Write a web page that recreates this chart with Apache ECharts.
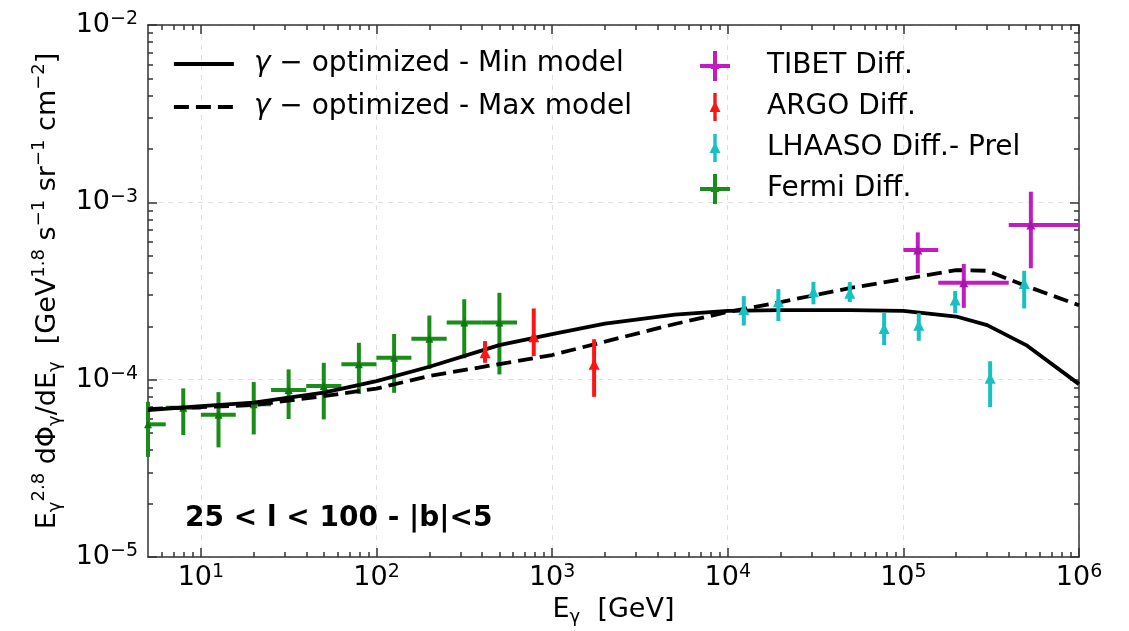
<!DOCTYPE html>
<html>
<head>
    <meta charset="utf-8" />
    <title>Diffuse gamma-ray spectrum 25 &lt; l &lt; 100</title>
    <script src="https://cdn.jsdelivr.net/npm/echarts@6.0.0/dist/echarts.min.js"></script>
    <style>
        body { margin: 0; background: #fff; }
        #main { width: 1129px; height: 631px; }
    </style>
</head>
<body>
<div id="main"></div>
<script>
    // model curves (GeV, E^2.8 dPhi/dE)
    let modelE   = [5, 10, 20, 50, 100, 200, 500, 1e3, 2e3, 5e3, 1e4, 2e4, 5e4, 1e5, 2e5, 3e5, 5e5, 1e6]
    let minModel = [6.74e-5, 7.1e-5, 7.43e-5, 8.46e-5, 9.82e-5, 1.183e-4, 1.567e-4, 1.807e-4, 2.07e-4, 2.33e-4, 2.44e-4, 2.47e-4, 2.47e-4, 2.44e-4, 2.27e-4, 2.03e-4, 1.567e-4, 9.44e-5]
    let maxModel = [6.83e-5, 7.01e-5, 7.19e-5, 8.08e-5, 8.91e-5, 1.048e-4, 1.225e-4, 1.377e-4, 1.64e-4, 2.06e-4, 2.41e-4, 2.74e-4, 3.29e-4, 3.69e-4, 4.15e-4, 4.11e-4, 3.37e-4, 2.63e-4]

    // Fermi
    let fermiE    = [5.0, 7.94, 12.6, 20.0, 31.6, 50.1, 79.4, 126, 200, 316, 501]
    let fermiELo  = [3.98, 6.31, 10, 15.8, 25.1, 39.8, 63.1, 100, 158, 251, 398]
    let fermiEHi  = [6.31, 10, 15.8, 25.1, 39.8, 63.1, 100, 158, 251, 398, 631]
    let fermiFlux = [5.6e-5, 6.95e-5, 6.34e-5, 7.26e-5, 8.74e-5, 9.2e-5, 1.22e-4, 1.33e-4, 1.70e-4, 2.10e-4, 2.10e-4]
    let fermiLo   = [3.67e-5, 4.87e-5, 4.15e-5, 4.91e-5, 6.0e-5, 5.97e-5, 8.3e-5, 8.43e-5, 1.15e-4, 1.32e-4, 1.07e-4]
    let fermiHi   = [7.5e-5, 8.93e-5, 8.51e-5, 9.69e-5, 1.143e-4, 1.245e-4, 1.615e-4, 1.81e-4, 2.3e-4, 2.84e-4, 3.09e-4]

    // ARGO
    let argoE    = [415, 786, 1734]
    let argoFlux = [1.42e-4, 1.746e-4, 1.22e-4]
    let argoLo   = [1.245e-4, 1.36e-4, 8.0e-5]
    let argoHi   = [1.65e-4, 2.52e-4, 1.69e-4]

    // LHAASO (preliminary)
    let lhaasoE    = [12340, 19420, 30760, 49550, 77700, 122400, 197200, 311900, 487500]
    let lhaasoFlux = [2.49e-4, 2.75e-4, 3.13e-4, 3.07e-4, 1.946e-4, 2.03e-4, 2.81e-4, 1.017e-4, 3.49e-4]
    let lhaasoLo   = [2.02e-4, 2.14e-4, 2.66e-4, 2.74e-4, 1.567e-4, 1.657e-4, 2.37e-4, 7.0e-5, 2.52e-4]
    let lhaasoHi   = [2.96e-4, 3.24e-4, 3.56e-4, 3.55e-4, 2.38e-4, 2.37e-4, 3.16e-4, 1.27e-4, 4.11e-4]

    // TIBET
    let tibetE    = [120800, 220800, 532000]
    let tibetELo  = [1e5, 1.58e5, 3.98e5]
    let tibetEHi  = [1.58e5, 3.98e5, 1e6]
    let tibetFlux = [5.38e-4, 3.52e-4, 7.45e-4]
    let tibetLo   = [3.98e-4, 2.54e-4, 4.25e-4]
    let tibetHi   = [6.77e-4, 4.49e-4, 1.148e-3]

    let majorX = [10, 100, 1e3, 1e4, 1e5, 1e6]
    let majorY = [1e-5, 1e-4, 1e-3, 1e-2]

    let nameMin = 'γ − optimized - Min model'
    let nameMax = 'γ − optimized - Max model'

    const FONT = 'DejaVu Sans'
    const axisColor = '#333'
    const colGreen = '#1a8c1a'
    const colRed = '#ff1414'
    const colCyan = '#17c1c1'
    const colMagenta = '#c21bc2'
    const modelWidth = 3.8

    let minorX = []
    for (let d = 1; d <= 1e5; d *= 10) {
        for (let k = 2; k <= 9; k++) {
            if (k * d > 5) minorX.push(k * d)
        }
    }
    let minorY = []
    for (let d of [1e-5, 1e-4, 1e-3]) {
        for (let k = 2; k <= 9; k++) minorY.push(k * d)
    }

    const expLabel = (v) => {
        let e = Math.round(Math.log10(v))
        return '{b|10}{e|' + (e < 0 ? '−' + (-e) : '' + e) + '}'
    }
    let tickRich = {
        b: { fontFamily: FONT, fontSize: 27, color: '#000', lineHeight: 30 },
        e: { fontFamily: FONT, fontSize: 19, color: '#000', lineHeight: 19, verticalAlign: 'top' },
    }
    let tickLine = { color: axisColor, width: 1.5 }

    function errRender(color, markColor, mark, lw) {
        return function (params, api) {
            let cs = params.coordSys
            let x = api.value(0), y = api.value(1)
            let p = api.coord([x, y])
            let yTop = api.coord([x, api.value(5)])[1]
            let yBot = api.coord([x, api.value(4)])[1]
            let kids = [{
                type: 'line',
                shape: { x1: p[0], y1: yTop, x2: p[0], y2: yBot },
                style: { stroke: color, lineWidth: lw },
            }]
            if (api.value(2) > 0) {
                let xl = Math.max(api.coord([api.value(2), y])[0], cs.x)
                let xr = Math.min(api.coord([api.value(3), y])[0], cs.x + cs.width)
                kids.push({
                    type: 'line',
                    shape: { x1: xl, y1: p[1], x2: xr, y2: p[1] },
                    style: { stroke: color, lineWidth: lw },
                })
            }
            let h = mark / 2
            kids.push({
                type: 'polygon',
                shape: { points: [[p[0], p[1] - h], [p[0] + h, p[1] + h], [p[0] - h, p[1] + h]] },
                style: { fill: markColor },
            })
            return { type: 'group', children: kids }
        }
    }

    let fermiData = fermiE.map((e, i) => [e, fermiFlux[i], fermiELo[i], fermiEHi[i], fermiLo[i], fermiHi[i]])
    let argoData = argoE.map((e, i) => [e, argoFlux[i], 0, 0, argoLo[i], argoHi[i]])
    let lhaasoData = lhaasoE.map((e, i) => [e, lhaasoFlux[i], 0, 0, lhaasoLo[i], lhaasoHi[i]])
    let tibetData = tibetE.map((e, i) => [e, tibetFlux[i], tibetELo[i], tibetEHi[i], tibetLo[i], tibetHi[i]])

    let iconCross = 'path://M0,13L30,13L30,17L0,17Z M13,0L17,0L17,30L13,30Z M15,10L19.5,18L10.5,18Z'
    let iconBar = 'path://M0,0L0,0 M30,30L30,30 M13.3,1L16.7,1L16.7,29L13.3,29Z M15,9L20.5,20L9.5,20Z'

    let chart = echarts.init(document.getElementById('main'))

    chart.setOption({
        animation: false,
        backgroundColor: '#fff',
        textStyle: { fontFamily: FONT },
        title: {
            text: '25 < l < 100 - |b|<5',
            left: 185,
            top: 504,
            padding: 0,
            textStyle: { fontFamily: FONT, fontSize: 28, fontWeight: 'bold', color: '#000', lineHeight: 30 },
        },
        grid: { left: 148, top: 25, width: 931, height: 532, outerBoundsMode: 'none' },
        legend: [
            {
                orient: 'vertical',
                left: 172,
                top: 50,
                padding: 0,
                itemWidth: 60,
                itemHeight: 14,
                itemGap: 15,
                itemStyle: { opacity: 0 },
                lineStyle: { width: modelWidth },
                data: [{ name: nameMin }, { name: nameMax }],
                formatter: (n) => '{g|γ}{t|' + n.slice(1) + '}',
                textStyle: {
                    rich: {
                        g: { fontFamily: FONT, fontSize: 28, fontStyle: 'italic', color: '#000', lineHeight: 30, padding: [0, 0, 0, 15] },
                        t: { fontFamily: FONT, fontSize: 28, color: '#000', lineHeight: 30 },
                    },
                },
            },
            {
                orient: 'vertical',
                left: 700,
                top: 51,
                padding: 0,
                itemWidth: 30,
                itemHeight: 30,
                itemGap: 11,
                data: [
                    { name: 'TIBET Diff.', icon: iconCross },
                    { name: 'ARGO Diff.', icon: iconBar },
                    { name: 'LHAASO Diff.- Prel', icon: iconBar },
                    { name: 'Fermi Diff.', icon: iconCross },
                ],
                formatter: (n) => '{t|' + n + '}',
                textStyle: {
                    rich: {
                        t: { fontFamily: FONT, fontSize: 28, color: '#000', lineHeight: 30, padding: [0, 0, 0, 32] },
                    },
                },
            },
        ],
        xAxis: [
            {
                type: 'log', logBase: 10, min: 5, max: 1e6, position: 'bottom',
                axisLine: { lineStyle: tickLine },
                axisTick: { inside: true, length: 9, customValues: majorX, lineStyle: tickLine },
                axisLabel: { customValues: majorX, formatter: expLabel, rich: tickRich, margin: 6 },
                splitLine: { show: true, lineStyle: { color: '#e0e0e0', type: [5, 5], width: 1 } },
                name: '{m|E}{s|γ}{m|  [GeV]}',
                nameLocation: 'middle',
                nameGap: 32,
                nameTextStyle: {
                    rich: {
                        m: { fontFamily: FONT, fontSize: 27, color: '#000', lineHeight: 32 },
                        s: { fontFamily: FONT, fontSize: 18, color: '#000', lineHeight: 18, verticalAlign: 'bottom' },
                    },
                },
            },
            {
                type: 'log', logBase: 10, min: 5, max: 1e6, position: 'bottom',
                axisLine: { show: false },
                axisTick: { inside: true, length: 5, customValues: minorX, lineStyle: tickLine },
                axisLabel: { show: false },
                splitLine: { show: false },
            },
            {
                type: 'log', logBase: 10, min: 5, max: 1e6, position: 'top',
                axisLine: { lineStyle: tickLine },
                axisTick: { inside: true, length: 9, customValues: majorX, lineStyle: tickLine },
                axisLabel: { show: false },
                splitLine: { show: false },
            },
            {
                type: 'log', logBase: 10, min: 5, max: 1e6, position: 'top',
                axisLine: { show: false },
                axisTick: { inside: true, length: 5, customValues: minorX, lineStyle: tickLine },
                axisLabel: { show: false },
                splitLine: { show: false },
            },
        ],
        yAxis: [
            {
                type: 'log', logBase: 10, min: 1e-5, max: 1e-2, position: 'left',
                axisLine: { lineStyle: tickLine },
                axisTick: { inside: true, length: 9, customValues: majorY, lineStyle: tickLine },
                axisLabel: { customValues: majorY, formatter: expLabel, rich: tickRich, margin: 10 },
                splitLine: { show: true, lineStyle: { color: '#e0e0e0', type: [5, 5], width: 1 } },
                name: '{m|E}{s|γ}{p|2.8}{m| dΦ}{s|γ}{m|/dE}{s|γ}{m|  [GeV}{p|1.8}{m| s}{p|−1}{m| sr}{p|−1}{m| cm}{p|−2}{m|]}',
                nameLocation: 'middle',
                nameGap: 82,
                nameTextStyle: {
                    rich: {
                        m: { fontFamily: FONT, fontSize: 27, color: '#000', lineHeight: 34 },
                        s: { fontFamily: FONT, fontSize: 18, color: '#000', lineHeight: 18, verticalAlign: 'bottom' },
                        p: { fontFamily: FONT, fontSize: 18, color: '#000', lineHeight: 18, verticalAlign: 'top' },
                    },
                },
            },
            {
                type: 'log', logBase: 10, min: 1e-5, max: 1e-2, position: 'left',
                axisLine: { show: false },
                axisTick: { inside: true, length: 5, customValues: minorY, lineStyle: tickLine },
                axisLabel: { show: false },
                splitLine: { show: false },
            },
            {
                type: 'log', logBase: 10, min: 1e-5, max: 1e-2, position: 'right',
                axisLine: { lineStyle: tickLine },
                axisTick: { inside: true, length: 9, customValues: majorY, lineStyle: tickLine },
                axisLabel: { show: false },
                splitLine: { show: false },
            },
            {
                type: 'log', logBase: 10, min: 1e-5, max: 1e-2, position: 'right',
                axisLine: { show: false },
                axisTick: { inside: true, length: 5, customValues: minorY, lineStyle: tickLine },
                axisLabel: { show: false },
                splitLine: { show: false },
            },
        ],
        series: [
            {
                name: 'Fermi Diff.',
                type: 'custom',
                renderItem: errRender(colGreen, '#0f760f', 8, 4),
                data: fermiData,
                encode: { x: 0, y: 1 },
                itemStyle: { color: colGreen },
                z: 2,
            },
            {
                name: nameMin,
                type: 'line',
                data: modelE.map((e, i) => [e, minModel[i]]),
                symbol: 'none',
                lineStyle: { color: '#000', width: modelWidth },
                itemStyle: { color: '#000' },
                z: 3,
            },
            {
                name: nameMax,
                type: 'line',
                data: modelE.map((e, i) => [e, maxModel[i]]),
                symbol: 'none',
                lineStyle: { color: '#000', width: modelWidth, type: [15, 7] },
                itemStyle: { color: '#000' },
                z: 3,
            },
            {
                name: 'ARGO Diff.',
                type: 'custom',
                renderItem: errRender(colRed, colRed, 11, 4),
                data: argoData,
                encode: { x: 0, y: 1 },
                itemStyle: { color: colRed },
                z: 4,
            },
            {
                name: 'LHAASO Diff.- Prel',
                type: 'custom',
                renderItem: errRender(colCyan, colCyan, 11, 4),
                data: lhaasoData,
                encode: { x: 0, y: 1 },
                itemStyle: { color: colCyan },
                z: 4,
            },
            {
                name: 'TIBET Diff.',
                type: 'custom',
                renderItem: errRender(colMagenta, '#a814a8', 9, 4),
                data: tibetData,
                encode: { x: 0, y: 1 },
                itemStyle: { color: colMagenta },
                z: 4,
            },
        ],
    })
</script>
</body>
</html>
